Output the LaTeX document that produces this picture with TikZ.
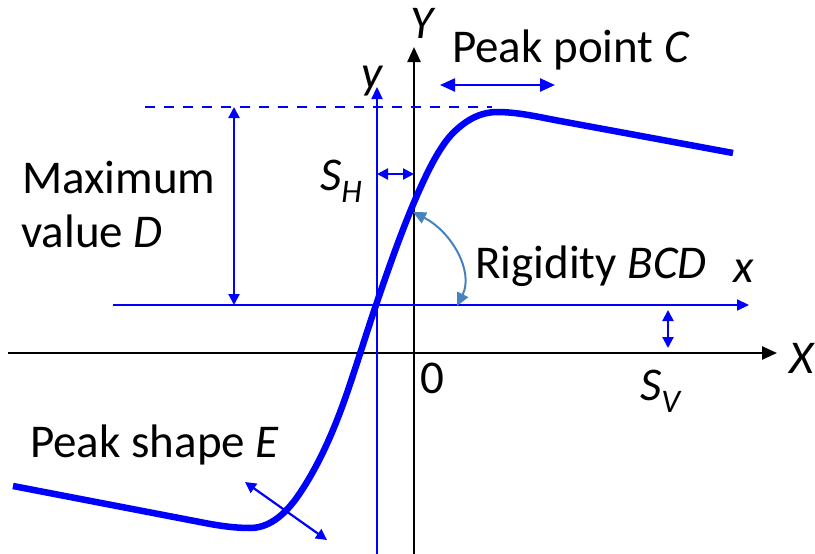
\documentclass[tikz,border=0pt]{standalone}
\usepackage{fontspec}
\setmainfont{Carlito}
\usetikzlibrary{arrows.meta}
\definecolor{pureblue}{RGB}{0,0,255}
\definecolor{arcblue}{RGB}{70,130,190}
\begin{document}
\begin{tikzpicture}[x=1pt,y=-1pt,
  lbl/.style={font=\fontsize{47}{52}\selectfont, inner sep=0pt},
  blueaxis/.style={draw=pureblue, line width=2.2pt, -{Triangle[length=12pt,width=11pt]}},
  blackaxis/.style={draw=black, line width=2.4pt, -{Triangle[length=15pt,width=13pt]}},
  dimarrow/.style={draw=pureblue, line width=2.2pt, {Triangle[length=11pt,width=11pt]}-{Triangle[length=11pt,width=11pt]}},
  bigarrow/.style={draw=pureblue, line width=2.4pt, {Triangle[length=15pt,width=13pt]}-{Triangle[length=15pt,width=13pt]}},
  arcarrow/.style={draw=arcblue, line width=2pt, {Triangle[length=13pt,width=12pt]}-{Triangle[length=13pt,width=12pt]}},
  curve/.style={draw=pureblue, line width=6.5pt}]
\useasboundingbox (0,0) rectangle (815,554);

% coordinates
\coordinate (Xs) at (8,353);
\coordinate (Xe) at (777,353);
\coordinate (Ys) at (414,554);
\coordinate (Ye) at (414,47);
\coordinate (xs) at (113,305);
\coordinate (xe) at (749,305);
\coordinate (ys) at (377,554);
\coordinate (ye) at (377,87);
\coordinate (d1) at (145,107);
\coordinate (d2) at (492,107);
\coordinate (m1) at (234,107);
\coordinate (m2) at (234,305);
\coordinate (sh1) at (377,174);
\coordinate (sh2) at (414,174);
\coordinate (sv1) at (668,310);
\coordinate (sv2) at (668,348);
\coordinate (pc1) at (440,85);
\coordinate (pc2) at (555,85);
\coordinate (pe1) at (245,482);
\coordinate (pe2) at (327,540);
\coordinate (r1) at (413,212);
\coordinate (r2) at (457,306);

% axes
\draw[blackaxis] (Xs) -- (Xe);
\draw[blackaxis] (Ys) -- (Ye);
\draw[blueaxis] (xs) -- (xe);
\draw[blueaxis] (ys) -- (ye);
\draw[draw=pureblue, line width=2.2pt, dash pattern=on 10pt off 9pt] (d1) -- (d2);

% dimension arrows
\draw[dimarrow] (m1) -- (m2);
\draw[dimarrow] (sh1) -- (sh2);
\draw[dimarrow] (sv1) -- (sv2);
\draw[bigarrow] (pc1) -- (pc2);
\draw[dimarrow] (pe1) -- (pe2);
\draw[arcarrow] (r1) .. controls (452,232) and (474,272) .. (r2);

% curve
\draw[curve] (13,486) -- (205,523)
  .. controls (220,525.9) and (235,528) .. (250,528)
  .. controls (266.7,528) and (283.3,518) .. (300,493)
  .. controls (315.7,469.5) and (331.3,438.5) .. (347,393)
  .. controls (356.7,364.9) and (366.3,333.5) .. (376,305)
  .. controls (389,266.8) and (402,230.3) .. (415,200)
  .. controls (427.7,170.4) and (440.3,145.7) .. (453,133)
  .. controls (467.7,118.3) and (482.3,112) .. (497,112)
  .. controls (518,112) and (539,117.1) .. (560,121)
  -- (733,153);

% labels
\node[lbl, anchor=base] (lY) at (423,38) {\textit{Y}};
\node[lbl, anchor=base] (ly) at (373,88) {\textit{y}};
\node[lbl, anchor=base] (lx) at (744,282) {\textit{x}};
\node[lbl, anchor=base] (lX) at (802,373) {\textit{X}};
\node[lbl, anchor=base] (l0) at (432,393) {0};
\node[lbl, anchor=base west] (lpc) at (452,62) {Peak point \textit{C}};
\node[lbl, anchor=base west] (lmax) at (22,193) {Maximum};
\node[lbl, anchor=base west] (lval) at (21,247) {value \textit{D}};
\node[lbl, anchor=base west] (lrig) at (475,278) {Rigidity \textit{BCD}};
\node[lbl, anchor=base west] (lpe) at (30,457) {Peak shape \textit{E}};
\node[lbl, anchor=base west] (lsh) at (320,190) {\textit{S}\textsubscript{\textit{H}}};
\node[lbl, anchor=base west] (lsv) at (640,400) {\textit{S}\textsubscript{\textit{V}}};
\end{tikzpicture}
\end{document}
